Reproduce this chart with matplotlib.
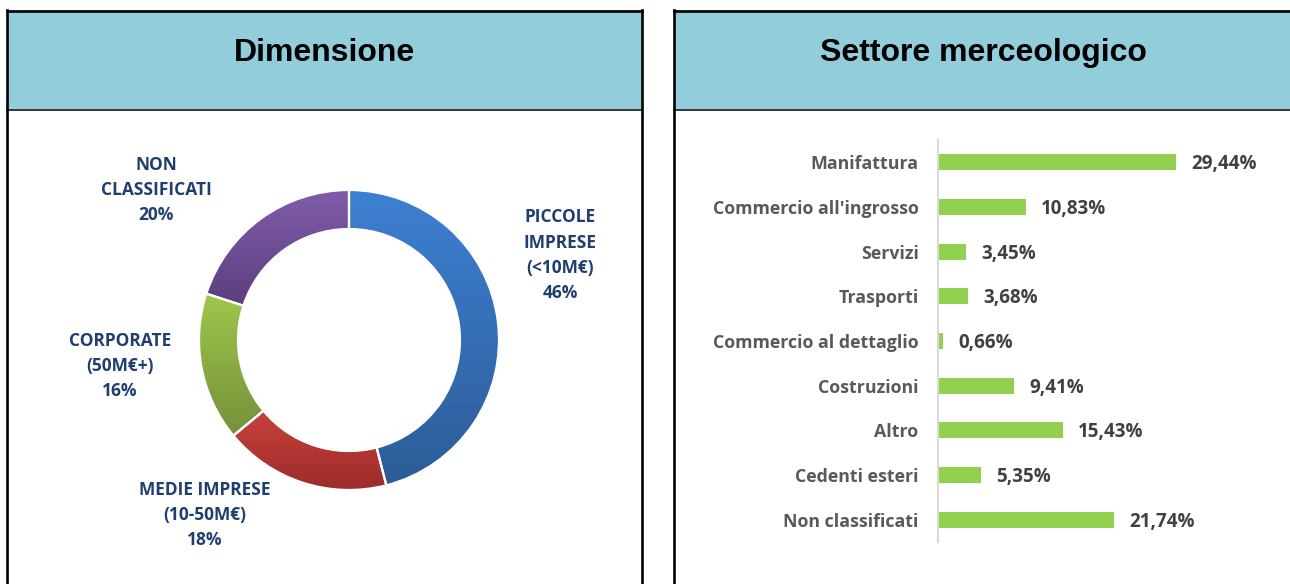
import numpy as np
import matplotlib
matplotlib.use("Agg")
import matplotlib.pyplot as plt
from matplotlib.patches import Rectangle
from matplotlib.colors import to_rgb

# dati - Dimensione
dim_labels = ["PICCOLE\nIMPRESE\n(<10M€)", "MEDIE IMPRESE\n(10-50M€)", "CORPORATE\n(50M€+)", "NON\nCLASSIFICATI"]
dim_values = [46, 18, 16, 20]
dim_top = ["#3D80D2", "#C8423B", "#9FC64C", "#7F5CA9"]
dim_bottom = ["#2D5C98", "#9C2B2B", "#74913A", "#5C3F7F"]

# dati - Settore merceologico
sett_labels = ["Manifattura", "Commercio all'ingrosso", "Servizi", "Trasporti",
               "Commercio al dettaglio", "Costruzioni", "Altro", "Cedenti esteri",
               "Non classificati"]
sett_values = [29.44, 10.83, 3.45, 3.68, 0.66, 9.41, 15.43, 5.35, 21.74]

W, H = 1290, 584
fig = plt.figure(figsize=(W / 100, H / 100), dpi=100)
fig.patch.set_facecolor("white")
FONT = "Open Sans"


def fr(x0, y0, x1, y1):
    # pixel box -> figure fraction [left, bottom, width, height]
    return [x0 / W, 1 - y1 / H, (x1 - x0) / W, (y1 - y0) / H]


# sfondo con riquadri e intestazioni
bg = fig.add_axes([0, 0, 1, 1], zorder=0)
bg.set_xlim(0, W)
bg.set_ylim(H, 0)
bg.axis("off")
header_col = "#92CDDC"
for x0, x1 in [(7, 642), (674, 1300)]:
    bg.add_patch(Rectangle((x0, 10), x1 - x0, 99, facecolor=header_col, edgecolor="none"))
    bg.plot([x0, x1], [109.5, 109.5], color="black", lw=1.1)
    bg.plot([x0, x1], [10.5, 10.5], color="black", lw=1.9)
    bg.plot([x0, x0], [10, H + 5], color="black", lw=1.9)
bg.plot([642, 642], [10, H + 5], color="black", lw=1.9)
bg.text(325, 53, "Dimensione", ha="center", va="center", fontsize=23,
        fontweight="bold", family="Liberation Sans")
bg.text(983, 53, "Settore merceologico", ha="center", va="center", fontsize=23,
        fontweight="bold", family="Liberation Sans")

# ciambella
cx, cy, side = 349, 340, 340
ax1 = fig.add_axes(fr(cx - side / 2, cy - side / 2, cx + side / 2, cy + side / 2), zorder=1)
ax1.set_xlim(-1.7, 1.7)
ax1.set_ylim(-1.7, 1.7)
ax1.set_aspect("equal")
ax1.axis("off")
wedges, _ = ax1.pie(dim_values, startangle=90, counterclock=False, radius=1.5,
                    wedgeprops=dict(width=0.39, edgecolor="white", linewidth=1.6))
grad = np.linspace(0, 1, 256)[:, None]
for w, c0, c1 in zip(wedges, dim_top, dim_bottom):
    ext = w.get_path().get_extents()
    a, b = np.array(to_rgb(c0)), np.array(to_rgb(c1))
    img = a[None, None, :] * (1 - grad[:, :, None]) + b[None, None, :] * grad[:, :, None]
    im = ax1.imshow(img, extent=[ext.x0, ext.x1, ext.y0, ext.y1], origin="upper",
                    aspect="auto", zorder=1)
    im.set_clip_path(w)
    w.set_facecolor("none")
    w.set_zorder(2)
ax1.set_xlim(-1.7, 1.7)
ax1.set_ylim(-1.7, 1.7)

lab_col = "#1F3F6E"
lab_pos = [(560, 255), (205, 515), (120, 366), (156, 190)]
for (lx, ly), lab, v in zip(lab_pos, dim_labels, dim_values):
    ax1.text((lx - cx) / 100, (cy - ly) / 100, f"{lab}\n{v}%", ha="center", va="center",
             fontsize=12.5, fontweight="bold", family=FONT, color=lab_col,
             linespacing=1.5, clip_on=False)

# barre orizzontali
x_left, scale = 938, 8.09
ax2 = fig.add_axes(fr(x_left, 140, x_left + 300, 542), zorder=1)
ypos = np.arange(len(sett_values))
ax2.barh(ypos, sett_values, height=0.36, color="#92D050")
ax2.set_xlim(0, 300 / scale)
ax2.set_ylim(len(sett_values) - 0.5, -0.5)
ax2.set_yticks(ypos)
ax2.set_yticklabels(sett_labels, fontsize=12.8, fontweight="bold", family=FONT,
                    color="#595959")
ax2.tick_params(axis="y", length=0, pad=14)
ax2.set_xticks([])
for s in ["top", "right", "bottom"]:
    ax2.spines[s].set_visible(False)
ax2.spines["left"].set_color("#D9D9D9")
ax2.spines["left"].set_linewidth(1.5)
ax2.patch.set_alpha(0)
for y, v in zip(ypos, sett_values):
    ax2.annotate(f"{v:.2f}".replace(".", ",") + "%", (v, y), xytext=(11, -1.5),
                 textcoords="offset points", ha="left", va="center", fontsize=13.5,
                 fontweight="bold", family=FONT, color="#404040")

fig.savefig("out.png", dpi=100)
